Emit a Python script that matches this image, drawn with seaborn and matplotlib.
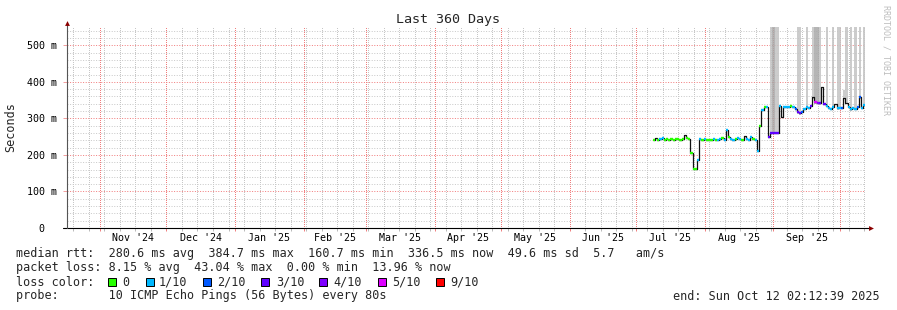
import matplotlib
matplotlib.use("Agg")
import matplotlib.pyplot as plt
import matplotlib.dates as mdates
import matplotlib.ticker as mticker
import matplotlib.transforms as mtrans
from matplotlib.patches import Rectangle
import seaborn as sns
import pandas as pd
import numpy as np

# ------------------------------------------------------------------ data
TITLE = "Last 360 Days"
Y_LABEL = "Seconds"
WATERMARK = "RRDTOOL / TOBI OETIKER"
RANGE_START = "2024-10-17 02:12:39"
RANGE_END = "2025-10-12 02:12:39"
SERIES_BASE = "2025-07-01"

# day offsets (days after 2025-07-01) of the median samples
day_offset = list(range(8, 104))
# median round trip time, milliseconds
median_ms = [
    241, 247, 242, 244, 245, 242, 243, 241, 243, 242,
    244, 243, 242, 243, 254, 245, 243, 205, 161, 161,
    186, 243, 241, 244, 240, 242, 241, 243, 242, 242,
    244, 245, 241, 268, 250, 244, 242, 243, 246, 244,
    242, 252, 243, 241, 249, 244, 242, 211, 280, 322,
    330, 332, 250, 260, 260, 260, 260, 335, 303, 330,
    332, 330, 334, 331, 326, 317, 314, 318, 325, 330,
    328, 333, 358, 344, 342, 341, 386, 338, 334, 328,
    325, 330, 340, 327, 329, 328, 357, 342, 330, 325,
    328, 326, 330, 358, 328, 336,
]
# loss class index into loss_colors (-1 = drawn black only)
loss_class = [
    0, -1, 0, 1, 1, 0, 0, 0, 0, 0,
    0, 0, 0, 0, -1, 0, 0, 0, 0, 0,
    1, 1, 0, 1, 0, 0, 0, 1, 0, 1,
    1, 0, 1, 1, 0, 1, 1, 0, 1, 1,
    0, -1, 1, 1, 1, 0, 1, 1, 0, 1,
    0, 1, 3, 3, 3, 3, 3, 1, -1, 1,
    1, 1, 0, 1, 2, 3, 3, 2, 1, 1,
    1, 3, -1, 5, 4, 3, -1, 3, 1, 1,
    1, 1, -1, 1, 1, 2, -1, -1, 1, 1,
    1, 1, 2, 2, 1, 1,
]

# smoke (ping spread) bars: day offset, top value (ms), darker shade flag
smoke_day = [61, 62, 63, 64, 73, 74, 77, 80, 81, 82, 83, 86, 89, 91, 92, 94, 95, 97, 99, 101, 103]
smoke_top_ms = [560, 560, 560, 560, 560, 560, 560, 560, 560, 560, 560,
                560, 560, 560, 560, 378, 560, 560, 560, 560, 560]
smoke_dark = [0, 1, 0, 0, 0, 0, 0, 0, 1, 1, 0, 0, 0, 0, 0, 0, 0, 0, 0, 0, 0]

month_labels = ["Nov '24", "Dec '24", "Jan '25", "Feb '25", "Mar '25", "Apr '25",
                "May '25", "Jun '25", "Jul '25", "Aug '25", "Sep '25"]
month_starts = ["2024-11-01", "2024-12-01", "2025-01-01", "2025-02-01", "2025-03-01",
                "2025-04-01", "2025-05-01", "2025-06-01", "2025-07-01", "2025-08-01",
                "2025-09-01"]

y_ticks = [0, 100, 200, 300, 400, 500]
y_tick_labels = ["0", "100 m", "200 m", "300 m", "400 m", "500 m"]
y_minor_step = 20

loss_labels = ["0", "1/10", "2/10", "3/10", "4/10", "5/10", "9/10"]
loss_colors = ["#26ff00", "#00b8ff", "#0059ff", "#5e00ff", "#7e00ff", "#dd00ff", "#ff0000"]

stat_lines = [
    "median rtt:  280.6 ms avg  384.7 ms max  160.7 ms min  336.5 ms now  49.6 ms sd  5.7   am/s",
    "packet loss: 8.15 % avg  43.04 % max  0.00 % min  13.96 % now",
    "loss color:",
    "probe:       10 ICMP Echo Pings (56 Bytes) every 80s",
]
END_TEXT = "end: Sun Oct 12 02:12:39 2025"

# ------------------------------------------------------------------ style
sns.set_theme(style="white")
plt.rcParams["font.family"] = ["DejaVu Sans Mono", "DejaVu Sans"]

W, H = 897, 310
fig = plt.figure(figsize=(W / 100, H / 100), dpi=100)
fig.patch.set_facecolor("white")
X0, X1, YT, YB = 67, 864.5, 27, 228
ax = fig.add_axes([X0 / W, (H - YB) / H, (X1 - X0) / W, (YB - YT) / H])
ax.set_facecolor("white")

base = pd.Timestamp(SERIES_BASE)
df = pd.DataFrame({
    "date": mdates.date2num(base + pd.to_timedelta(day_offset, unit="D")),
    "median": median_ms,
    "loss": loss_class,
})
smoke = pd.DataFrame({
    "date": mdates.date2num(base + pd.to_timedelta(smoke_day, unit="D")),
    "top": smoke_top_ms,
    "dark": smoke_dark,
})
smoke = smoke.merge(df[["date", "median"]], on="date", how="left")

x_start = mdates.date2num(pd.Timestamp(RANGE_START))
x_end = mdates.date2num(pd.Timestamp(RANGE_END))

# smoke bars
for dark, col in [(0, "#c4c4c4"), (1, "#a8a8a8")]:
    s = smoke[smoke["dark"] == dark]
    ax.bar(s["date"], s["top"] - (s["median"] - 4), bottom=s["median"] - 4,
           width=1.0, color=col, alpha=0.85, linewidth=0, zorder=2)

# black median step line
sns.lineplot(data=df, x="date", y="median", ax=ax, color="#101010",
             linewidth=0.9, drawstyle="steps-mid", zorder=3, legend=False)

# loss-coloured segments
for ci, col in enumerate(loss_colors):
    s = df[df["loss"] == ci]
    if len(s):
        ax.hlines(s["median"], s["date"] - 0.5, s["date"] + 0.5, colors=col,
                  linewidth=1.7, zorder=4)

# ------------------------------------------------------------------ axes
ax.set_xlim(x_start, x_end)
ax.set_ylim(0, 550)
ax.set_xlabel("")
ax.set_ylabel("")

ax.xaxis.set_major_locator(mdates.MonthLocator())
ax.xaxis.set_minor_locator(mdates.WeekdayLocator(byweekday=mdates.SU))
ax.xaxis.set_major_formatter(mticker.NullFormatter())
ax.xaxis.set_minor_formatter(mticker.NullFormatter())
ax.yaxis.set_major_locator(mticker.FixedLocator(y_ticks))
minor_y = [v for v in range(y_minor_step, 551, y_minor_step) if v not in y_ticks]
ax.yaxis.set_minor_locator(mticker.FixedLocator(minor_y))
ax.set_yticklabels(y_tick_labels)

ax.grid(which="minor", axis="x", color="#c6c6c6", linestyle=(0.5, (1, 1)), linewidth=0.72)
ax.grid(which="major", axis="x", color="#f07c7c", linestyle=(0.5, (1, 1)), linewidth=0.72)
ax.grid(which="minor", axis="y", color="#cacaca", linestyle=(0, (1, 1.6)), linewidth=0.72)
ax.grid(which="major", axis="y", color="#f28080", linestyle=(0, (1, 1.6)), linewidth=0.72)
ax.set_axisbelow(True)

for sp in ax.spines.values():
    sp.set_visible(False)

ax.tick_params(axis="x", which="major", length=2.5, width=0.72, color="#f08080",
               direction="out", bottom=True)
ax.tick_params(axis="x", which="minor", length=2, width=0.72, color="#bbbbbb",
               direction="out", bottom=True)
ax.tick_params(axis="y", which="major", length=3, width=0.72, color="#f3a0a0",
               direction="out", left=True, labelsize=7.2, pad=4.5, labelcolor="black")
ax.tick_params(axis="y", which="minor", length=0)

# shift the "0" label to the digit column
lbl0 = ax.get_yticklabels()[0]
lbl0.set_transform(lbl0.get_transform() + mtrans.ScaledTranslation(-0.12, 0, fig.dpi_scale_trans))

# axis lines with arrows
ax.plot([-0.005, 1.006], [0, 0], transform=ax.transAxes, color="black", lw=0.8,
        clip_on=False, zorder=6)
ax.plot([0, 0], [0, 1.012], transform=ax.transAxes, color="#555555", lw=0.8,
        clip_on=False, zorder=6)
ax.plot([1.0085], [0], marker=">", ms=3.5, color="#8b0000", transform=ax.transAxes,
        clip_on=False, zorder=7, markeredgewidth=0)
ax.plot([0], [1.022], marker="^", ms=3.5, color="#8b0000", transform=ax.transAxes,
        clip_on=False, zorder=7, markeredgewidth=0)

# month labels centred on the middle of each month
for lab, ms_ in zip(month_labels, month_starts):
    t0 = pd.Timestamp(ms_)
    mid = mdates.date2num(t0 + pd.Timedelta(days=t0.days_in_month / 2))
    ax.text(mid, -10 / (YB - YT), lab, transform=ax.get_xaxis_transform(),
            ha="center", va="center", fontsize=7.2, color="black")

# ------------------------------------------------------------------ texts
def fy(py):
    return 1 - py / H

fig.text(448 / W, fy(19), TITLE, ha="center", va="center", fontsize=9.6)
fig.text(11 / W, fy(127.5), Y_LABEL, ha="center", va="center", rotation=90, fontsize=8.5)
fig.text(886 / W, fy(60), WATERMARK, ha="center", va="center", rotation=270,
         fontsize=6, color="#bdbdbd")

row_y = [254, 268, 282, 296]
for txt, py in zip(stat_lines, row_y):
    fig.text(16 / W, fy(py), txt, ha="left", va="center", fontsize=8.5)
fig.text(880 / W, fy(296), END_TEXT, ha="right", va="center", fontsize=8.5)

sq_x = [108, 146, 203, 261, 319, 378, 436]
lab_x = [122, 159, 217, 276, 333, 392, 450]
for sx, lx, lab, col in zip(sq_x, lab_x, loss_labels, loss_colors):
    fig.add_artist(Rectangle((sx / W, fy(286)), 8 / W, 8 / H, transform=fig.transFigure,
                             facecolor=col, edgecolor="black", linewidth=0.7))
    fig.text(lx / W, fy(282), lab, ha="left", va="center", fontsize=8.5)

fig.savefig("out.png", dpi=100)
